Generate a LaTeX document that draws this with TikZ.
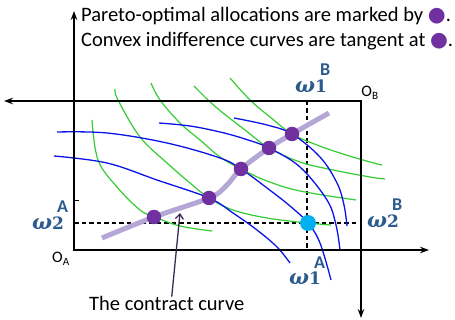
\documentclass[tikz,border=0pt]{standalone}
\usepackage{fontspec}
\setmainfont{Carlito}
\newfontfamily\symfont{DejaVu Sans}
\newfontfamily\omegaFont{DejaVu Serif}
\usepackage{xcolor}
\definecolor{ewGreen}{HTML}{33CC33}
\definecolor{ewBlue}{HTML}{0A14E6}
\definecolor{ewPurple}{HTML}{7030A0}
\definecolor{ewLavender}{HTML}{B4A7D6}
\definecolor{ewCyan}{HTML}{00B0F0}
\definecolor{ewNavy}{HTML}{2B5A8C}
\definecolor{ewPointer}{HTML}{3B2A50}
\usepackage{tikz}
\usetikzlibrary{arrows.meta, positioning}
\newcommand{\paretoMark}{\textcolor{ewPurple}{\symfont ●}}
%% omega with the good as index and the consumer raised above it
\newcommand{\omegaMark}[2]{%
  {\fontsize{21}{21}\selectfont\omegaFont\bfseries\itshape ω}%
  \rlap{\fontsize{17}{17}\selectfont\omegaFont\bfseries #1}%
  \kern5pt\raisebox{17pt}{\fontsize{18}{18}\selectfont\bfseries #2}}
\tikzset{
  %% ── Axes ─────────────────────────────────────────────────────────────
  %% Each consumer's two axes are one path, so the corner of the box joins.
  axisArrow/.style   = {line width=2.4pt, line join=miter,
                        {Stealth[length=9pt, width=6.5pt]}-{Stealth[length=9pt, width=6.5pt]}},
  guideLine/.style   = {line width=1.2pt, dash pattern=on 4.5pt off 3pt},
  %%
  %% ── Curves ───────────────────────────────────────────────────────────
  indiffGreen/.style = {draw=ewGreen, line width=1.2pt},
  indiffBlue/.style  = {draw=ewBlue, line width=1.3pt},
  contractLine/.style = {draw=ewLavender, line width=5pt},
  paretoDot/.style   = {circle, fill=ewPurple, minimum size=14.5pt, inner sep=0pt},
  endowDot/.style    = {circle, fill=ewCyan, minimum size=16pt, inner sep=0pt},
  pointer/.style     = {-{Straight Barb[length=5pt, width=8pt]}, draw=ewPointer,
                        line width=1.3pt},
  %%
  %% ── Text ─────────────────────────────────────────────────────────────
  omegaLabel/.style  = {text=ewNavy, inner sep=0pt, anchor=base west},
  originLabel/.style = {inner sep=0pt, font=\fontsize{16}{18}\selectfont},
  noteText/.style    = {inner sep=0pt, anchor=base west, font=\fontsize{20.5}{24}\selectfont},
}

\begin{document}
\begin{tikzpicture}[x=1pt, y=-1pt]
\useasboundingbox (0,0) rectangle (455,320);

\coordinate (oA) at (74,250);
\coordinate (oB) at (361,101);
\coordinate (aTop) at (74,11);
\coordinate (aRight) at (429,250);
\coordinate (bLeft) at (4,101);
\coordinate (bBottom) at (361,318);

%% guides through the endowment
\draw[guideLine] (74,223) -- (358,223);
\draw[guideLine] (307,101) -- (307,249);
\draw[line width=0.8pt] (74,200) -- (79,200);

%% indifference curves
\draw[indiffGreen] plot[smooth, tension=0.6] coordinates
  {(92,120) (98,160) (117,187) (140,210) (155,217) (180,226) (212,231)};
\draw[indiffGreen] plot[smooth, tension=0.6] coordinates
  {(115,89) (118,100) (140,137) (167,163) (190,183) (209,198) (233,210) (267,218) (308,223) (331,225)};
\draw[indiffGreen] plot[smooth, tension=0.6] coordinates
  {(151,83) (160,100) (180,123) (200,140) (220,157) (241,169) (267,181) (300,191) (356,200)};
\draw[indiffGreen] plot[smooth, tension=0.6] coordinates
  {(194,86) (208,100) (223,113) (245,130) (269,148) (300,162) (333,170) (370,177) (385,179)};
\draw[indiffGreen] plot[smooth, tension=0.6] coordinates
  {(230,78) (250,100) (270,117) (292,134) (317,145) (343,154) (370,162) (382,165)};

\draw[indiffBlue] plot[smooth, tension=0.6] coordinates
  {(54,156) (107,163) (157,180) (209,198) (233,213) (257,230) (277,247) (290,263)};
\draw[indiffBlue] plot[smooth, tension=0.6] coordinates
  {(57,132) (107,133) (167,143) (220,158) (241,169) (267,188) (290,206) (308,223) (320,243) (331,280)};
\draw[indiffBlue] plot[smooth, tension=0.6] coordinates
  {(159,123) (190,126) (220,132) (245,139) (269,148) (300,167) (327,200) (336,225) (340,250)};
\draw[indiffBlue] plot[smooth, tension=0.6] coordinates
  {(234,118) (267,125) (292,134) (320,157) (337,183) (344,205) (347,226)};

%% the two consumers' axes
\draw[axisArrow] (aTop) -- (oA) -- (aRight);
\draw[axisArrow] (bLeft) -- (oB) -- (bBottom);

%% contract curve and the tangencies on it
\draw[contractLine] plot[smooth, tension=0.6] coordinates
  {(102,238) (154,217) (209,198) (226,186) (241,169) (269,148) (292,134) (329,113)};
\node[paretoDot] (p1) at (154,217) {};
\node[paretoDot] (p2) at (209,198) {};
\node[paretoDot] (p3) at (241,169) {};
\node[paretoDot] (p4) at (269,148) {};
\node[paretoDot] (p5) at (292,134) {};
\node[endowDot] (endow) at (308,223) {};

%% labels
\node[omegaLabel] (w1B) at (295,93) {\omegaMark{1}{B}};
\node[omegaLabel] (w2A) at (32,230) {\omegaMark{2}{A}};
\node[omegaLabel] (w2B) at (367,228) {\omegaMark{2}{B}};
\node[omegaLabel] (w1A) at (289,285) {\omegaMark{1}{A}};
\node[originLabel] (labOB) at (370,93) {O\textsubscript{B}};
\node[originLabel] (labOA) at (61,259) {O\textsubscript{A}};

\node[noteText] (noteTop) at (81,22) {Pareto-optimal allocations are marked by \paretoMark.};
\node[noteText] (noteBottom) at (81,47) {Convex indifference curves are tangent at \paretoMark.};

\node[noteText] (ccLabel) at (89,310) {The contract curve};
\coordinate (ccTip) at (180,213);
\draw[pointer] ([xshift=5pt, yshift=-1pt]ccLabel.north) -- (ccTip);

\end{tikzpicture}
\end{document}
